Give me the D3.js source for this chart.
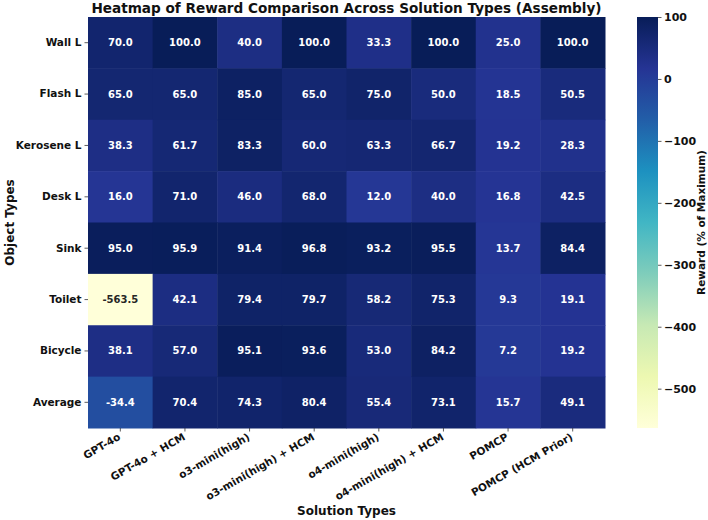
<!DOCTYPE html>
<html>
<head>
<meta charset="utf-8">
<script src="https://cdn.jsdelivr.net/npm/d3@7"></script>
<style>
  body { margin: 0; background: #fff; }
  svg text { font-family: "DejaVu Sans", sans-serif; font-weight: bold; }
</style>
</head>
<body>
<div class="chart"></div>
<script>
const objects = ["Wall L", "Flash L", "Kerosene L", "Desk L", "Sink", "Toilet", "Bicycle", "Average"];
const solutions = ["GPT-4o", "GPT-4o + HCM", "o3-mini(high)", "o3-mini(high) + HCM",
                   "o4-mini(high)", "o4-mini(high) + HCM", "POMCP", "POMCP (HCM Prior)"];
const wallL    = [70.0, 100.0, 40.0, 100.0, 33.3, 100.0, 25.0, 100.0];
const flashL   = [65.0, 65.0, 85.0, 65.0, 75.0, 50.0, 18.5, 50.5];
const keroseneL = [38.3, 61.7, 83.3, 60.0, 63.3, 66.7, 19.2, 28.3];
const deskL    = [16.0, 71.0, 46.0, 68.0, 12.0, 40.0, 16.8, 42.5];
const sink     = [95.0, 95.9, 91.4, 96.8, 93.2, 95.5, 13.7, 84.4];
const toilet   = [-563.5, 42.1, 79.4, 79.7, 58.2, 75.3, 9.3, 19.1];
const bicycle  = [38.1, 57.0, 95.1, 93.6, 53.0, 84.2, 7.2, 19.2];
const average  = [-34.4, 70.4, 74.3, 80.4, 55.4, 73.1, 15.7, 49.1];
const cbTicks = [100, 0, -100, -200, -300, -400, -500];

const rows = [wallL, flashL, keroseneL, deskL, sink, toilet, bicycle, average];
const cells = [];
rows.forEach((r, i) => r.forEach((v, j) => cells.push({row: objects[i], col: solutions[j], value: v})));

const W = 708, H = 520;
const margin = {top: 17, left: 88, right: 103, bottom: 92};
const width = W - margin.left - margin.right,
      height = H - margin.top - margin.bottom;

const svg = d3.select(".chart").append("svg")
    .attr("width", W).attr("height", H);
const g = svg.append("g")
    .attr("transform", `translate(${margin.left},${margin.top})`);

const vmin = d3.min(cells, d => d.value), vmax = d3.max(cells, d => d.value);
// matplotlib YlGnBu
const ylgnbu = ["#ffffd9", "#edf8b1", "#c7e9b4", "#7fcdbb", "#41b6c4", "#1d91c0", "#225ea8", "#253494", "#081d58"];
const color = d3.scaleLinear()
    .domain(ylgnbu.map((_, i) => vmin + (vmax - vmin) * i / (ylgnbu.length - 1)))
    .range(ylgnbu)
    .interpolate(d3.interpolateRgb)
    .clamp(true);

const x = d3.scaleBand().domain(solutions).range([0, width]);
const y = d3.scaleBand().domain(objects).range([0, height]);

g.selectAll("rect.cell")
    .data(cells)
    .enter()
    .append("rect")
    .attr("class", "cell")
    .attr("x", d => x(d.col))
    .attr("y", d => y(d.row))
    .attr("width", x.bandwidth() + 0.5)
    .attr("height", y.bandwidth() + 0.5)
    .attr("fill", d => color(d.value));

g.selectAll("text.annot")
    .data(cells)
    .enter()
    .append("text")
    .attr("class", "annot")
    .attr("x", d => x(d.col) + x.bandwidth() / 2)
    .attr("y", d => y(d.row) + y.bandwidth() / 2)
    .attr("text-anchor", "middle")
    .attr("dominant-baseline", "central")
    .attr("font-size", 10)
    .attr("fill", d => {
        const c = d3.rgb(color(d.value));
        const lin = v => { v /= 255; return v <= 0.03928 ? v / 12.92 : Math.pow((v + 0.055) / 1.055, 2.4); };
        const l = 0.2126 * lin(c.r) + 0.7152 * lin(c.g) + 0.0722 * lin(c.b);
        return l > 0.408 ? "#262626" : "#fff";
    })
    .text(d => d.value.toFixed(1));

// Axes
const xAxis = d3.axisBottom(x).tickSize(3.5).tickPadding(2);
const yAxis = d3.axisLeft(y).tickSize(3.5).tickPadding(3);

const gx = g.append("g")
    .attr("class", "axis x-axis")
    .attr("transform", `translate(0,${height})`)
    .call(xAxis);
gx.select(".domain").remove();
gx.selectAll(".tick line").attr("stroke", "#333").attr("stroke-width", 0.8);
gx.selectAll(".tick text")
    .attr("font-size", 10.5)
    .attr("fill", "#111")
    .attr("text-anchor", "end")
    .attr("y", 0)
    .attr("dy", 0)
    .attr("transform", "translate(1,11) rotate(-30)");

const gy = g.append("g")
    .attr("class", "axis y-axis")
    .call(yAxis);
gy.select(".domain").remove();
gy.selectAll(".tick line").attr("stroke", "#333").attr("stroke-width", 0.8);
gy.selectAll(".tick text").attr("font-size", 10.5).attr("fill", "#111");

// Title and labels
svg.append("text")
    .attr("x", margin.left + width / 2)
    .attr("y", 13)
    .attr("text-anchor", "middle")
    .attr("font-size", 13.6)
    .attr("fill", "#111")
    .text("Heatmap of Reward Comparison Across Solution Types (Assembly)");

svg.append("text")
    .attr("x", margin.left + width / 2)
    .attr("y", 515)
    .attr("text-anchor", "middle")
    .attr("font-size", 12)
    .attr("fill", "#111")
    .text("Solution Types");

svg.append("text")
    .attr("transform", `translate(14,${margin.top + height / 2}) rotate(-90)`)
    .attr("text-anchor", "middle")
    .attr("font-size", 12)
    .attr("fill", "#111")
    .text("Object Types");

// Colorbar
const cbX = 637, cbW = 21;
const cbScale = d3.scaleLinear().domain([vmin, vmax]).range([margin.top + height, margin.top]);
const defs = svg.append("defs");
const grad = defs.append("linearGradient")
    .attr("id", "cbgrad")
    .attr("x1", 0).attr("y1", 1).attr("x2", 0).attr("y2", 0);
ylgnbu.forEach((c, i) => {
    grad.append("stop")
        .attr("offset", i / (ylgnbu.length - 1))
        .attr("stop-color", c);
});
svg.append("rect")
    .attr("x", cbX)
    .attr("y", margin.top)
    .attr("width", cbW)
    .attr("height", height)
    .attr("fill", "url(#cbgrad)");

const cbAxis = d3.axisRight(cbScale)
    .tickValues(cbTicks)
    .tickSize(3.5)
    .tickPadding(2.5)
    .tickFormat(d => d < 0 ? "\u2212" + Math.abs(d) : d);
const gcb = svg.append("g")
    .attr("transform", `translate(${cbX + cbW},0)`)
    .call(cbAxis);
gcb.select(".domain").remove();
gcb.selectAll(".tick line").attr("stroke", "#333").attr("stroke-width", 0.8);
gcb.selectAll(".tick text").attr("font-size", 11).attr("fill", "#111");

svg.append("text")
    .attr("transform", `translate(705,${margin.top + height / 2}) rotate(-90)`)
    .attr("text-anchor", "middle")
    .attr("font-size", 10.5)
    .attr("fill", "#111")
    .text("Reward (% of Maximum)");
</script>
</body>
</html>
